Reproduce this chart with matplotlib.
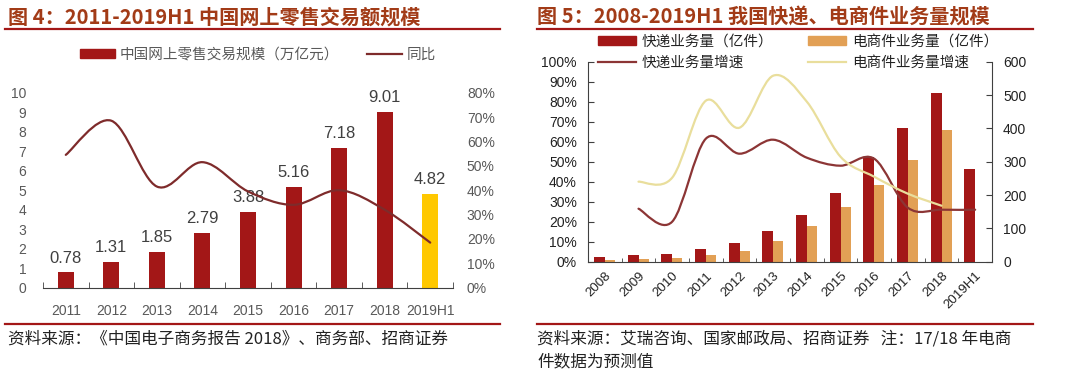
import matplotlib
matplotlib.use("Agg")
import matplotlib.pyplot as plt
import numpy as np
from matplotlib.path import Path
from matplotlib.patches import PathPatch, Patch
from matplotlib.lines import Line2D

plt.rcParams['font.family'] = ['Liberation Sans', 'Noto Sans CJK SC', 'DejaVu Sans']

# ---- data, left chart
years_l = ['2011', '2012', '2013', '2014', '2015', '2016', '2017', '2018', '2019H1']
retail = [0.78, 1.31, 1.85, 2.79, 3.88, 5.16, 7.18, 9.01, 4.82]
retail_yoy = [54.5, 68.5, 41.5, 51.5, 39.5, 34.0, 40.0, 32.0, 18.5]

# ---- data, right chart
years_r = ['2008', '2009', '2010', '2011', '2012', '2013', '2014', '2015', '2016',
           '2017', '2018', '2019H1']
express = [15, 19, 23, 37, 57, 92, 140, 207, 313, 401, 507, 277]
ecom = [6, 9, 12, 20, 31, 61, 107, 164, 229, 306, 394]
express_g = [26.5, 20.0, 61.5, 54.0, 61.0, 52.0, 48.0, 51.5, 27.0, 26.0, 26.0]   # from 2009
ecom_g = [40.0, 42.0, 80.5, 67.0, 93.0, 80.0, 52.5, 42.5, 34.0, 28.0]            # 2009-2018

RED = '#A31717'
YEL = '#FFC800'
ORA = '#E2A055'
LINE_L = '#7E2B2B'
LINE_R1 = '#8C3535'
LINE_R2 = '#E9DE9C'
GREY = '#595959'
TITLE = '#A23B17'
CJK = ['Noto Sans CJK SC', 'DejaVu Sans']


def smooth_path(xs, ys, ax, color, lw):
    # catmull-rom -> cubic bezier, drawn by matplotlib as a Path in data coords
    xs = np.asarray(xs, float)
    ys = np.asarray(ys, float)
    pts = np.column_stack([xs, ys])
    verts = [pts[0]]
    codes = [Path.MOVETO]
    n = len(pts)
    for i in range(n - 1):
        p0 = pts[i - 1] if i > 0 else pts[i]
        p1 = pts[i]
        p2 = pts[i + 1]
        p3 = pts[i + 2] if i + 2 < n else pts[i + 1]
        c1 = p1 + (p2 - p0) / 6.0
        c2 = p2 - (p3 - p1) / 6.0
        verts += [c1, c2, p2]
        codes += [Path.CURVE4] * 3
    patch = PathPatch(Path(verts, codes), fill=False, edgecolor=color, lw=lw,
                      transform=ax.transData, zorder=5, capstyle='round')
    ax.add_patch(patch)


fig = plt.figure(figsize=(10.75, 3.76), dpi=100)

# ---------------- titles / rules / sources
fig.text(8 / 1075, 1 - 17 / 376, '图 4：2011-2019H1 中国网上零售交易额规模', family=CJK,
         fontsize=14.5, fontweight='bold', color=TITLE, va='center', ha='left')
fig.text(537 / 1075, 1 - 17 / 376, '图 5：2008-2019H1 我国快递、电商件业务量规模', family=CJK,
         fontsize=14.5, fontweight='bold', color=TITLE, va='center', ha='left')
for x0, x1 in [(5, 500), (537, 1033)]:
    for yy in (29, 324):
        fig.add_artist(Line2D([x0 / 1075, x1 / 1075], [1 - yy / 376, 1 - yy / 376],
                              color=RED, lw=1.6))
fig.text(8 / 1075, 1 - 339 / 376, '资料来源：《中国电子商务报告 2018》、商务部、招商证券', family=CJK,
         fontsize=12, color='#222222', va='center', ha='left')
fig.text(537 / 1075, 1 - 339 / 376, '资料来源：艾瑞咨询、国家邮政局、招商证券   注：17/18 年电商',
         family=CJK, fontsize=12, color='#222222', va='center', ha='left')
fig.text(537 / 1075, 1 - 362 / 376, '件数据为预测值', family=CJK,
         fontsize=12, color='#222222', va='center', ha='left')

# ---------------- left chart
axL = fig.add_axes([43 / 1075, 1 - 287.7 / 376, 410 / 1075, 195 / 376])
axL2 = axL.twinx()
xl = np.arange(len(years_l))
colors_l = [RED] * (len(years_l) - 1) + [YEL]
axL.bar(xl, retail, width=0.35, color=colors_l, zorder=2)
for xi, v in zip(xl, retail):
    axL.text(xi, v + 0.35, f'{v:.2f}', ha='center', va='bottom', fontsize=12, color='#404040')
axL.set_xlim(-0.5, len(years_l) - 0.5)
axL.set_ylim(0, 10)
axL.yaxis.tick_left()
axL.set_yticks(range(0, 11))
axL.set_xticks(xl)
axL.set_xticklabels(years_l)
axL.set_xticks(np.arange(-0.5, len(years_l), 1), minor=True)
axL.tick_params(axis='x', which='major', length=0, pad=12, labelsize=10, labelcolor=GREY)
axL.tick_params(axis='x', which='minor', length=4, direction='in', color='#404040')
axL.tick_params(axis='y', length=0, labelsize=10, labelcolor=GREY, pad=12)
for s in ['top', 'right', 'left']:
    axL.spines[s].set_visible(False)
axL.spines['bottom'].set_color('#404040')

axL2.set_ylim(0, 80)
axL2.set_yticks(range(0, 81, 10))
axL2.set_yticklabels([f'{v}%' for v in range(0, 81, 10)])
axL2.tick_params(axis='y', length=0, labelsize=10, labelcolor=GREY, pad=10)
for s in axL2.spines.values():
    s.set_visible(False)
smooth_path(xl, retail_yoy, axL2, LINE_L, 1.6)

fig.legend(handles=[Patch(color=RED, label='中国网上零售交易规模（万亿元）'),
                    Line2D([], [], color=LINE_L, lw=1.6, label='同比')],
           loc='center', bbox_to_anchor=(258 / 1075, 1 - 55 / 376), ncol=2, frameon=False,
           prop={'family': CJK, 'size': 10.5}, labelcolor=GREY, handlelength=2.4,
           handleheight=0.6, columnspacing=1.9, handletextpad=0.3)

# ---------------- right chart
axR = fig.add_axes([588 / 1075, 1 - 261.7 / 376, 404 / 1075, 200 / 376])
axR2 = axR.twinx()
xr = np.arange(len(years_r))
axR.bar(xr - 0.16, express, width=0.32, color=RED, zorder=2)
axR.bar(xr[:len(ecom)] + 0.15, ecom, width=0.30, color=ORA, zorder=2)
axR.set_xlim(-0.5, len(years_r) - 0.5)
axR.set_ylim(0, 600)
axR.yaxis.tick_right()
axR.set_yticks(range(0, 601, 100))
axR.set_xticks(xr)
axR.set_xticklabels(years_r, rotation=45, ha='right', rotation_mode='anchor')
axR.set_xticks(np.arange(-0.5, len(years_r), 1), minor=True)
axR.tick_params(axis='x', which='major', length=0, pad=6, labelsize=9.5, labelcolor='#222222')
axR.tick_params(axis='x', which='minor', length=3, direction='in', color='#404040')
axR.tick_params(axis='y', length=4, direction='in', labelsize=10, labelcolor='#222222',
                pad=8, color='#404040')
axR.spines['top'].set_visible(False)
for s in ['left', 'right', 'bottom']:
    axR.spines[s].set_color('#404040')

axR2.yaxis.tick_left()
axR2.set_ylim(0, 100)
axR2.set_yticks(range(0, 101, 10))
axR2.set_yticklabels([f'{v}%' for v in range(0, 101, 10)])
axR2.tick_params(axis='y', length=4, direction='in', labelsize=10, labelcolor='#222222',
                 pad=8, color='#404040')
for s in axR2.spines.values():
    s.set_visible(False)
smooth_path(xr[1:], express_g, axR2, LINE_R1, 1.6)
smooth_path(xr[1:1 + len(ecom_g)], ecom_g, axR2, LINE_R2, 1.6)

fig.legend(handles=[Patch(color=RED, label='快递业务量（亿件）'),
                    Line2D([], [], color=LINE_R1, lw=1.6, label='快递业务量增速'),
                    Patch(color=ORA, label='电商件业务量（亿件）'),
                    Line2D([], [], color=LINE_R2, lw=1.6, label='电商件业务量增速')],
           loc='upper left', bbox_to_anchor=(598 / 1075, 1 - 35 / 376), ncol=2, frameon=False,
           prop={'family': CJK, 'size': 10.5}, labelcolor='#222222', handlelength=2.6,
           handleheight=0.6, columnspacing=2.4, handletextpad=0.4, labelspacing=0.45,
           borderaxespad=0, borderpad=0)

fig.savefig('out.png', dpi=100)
